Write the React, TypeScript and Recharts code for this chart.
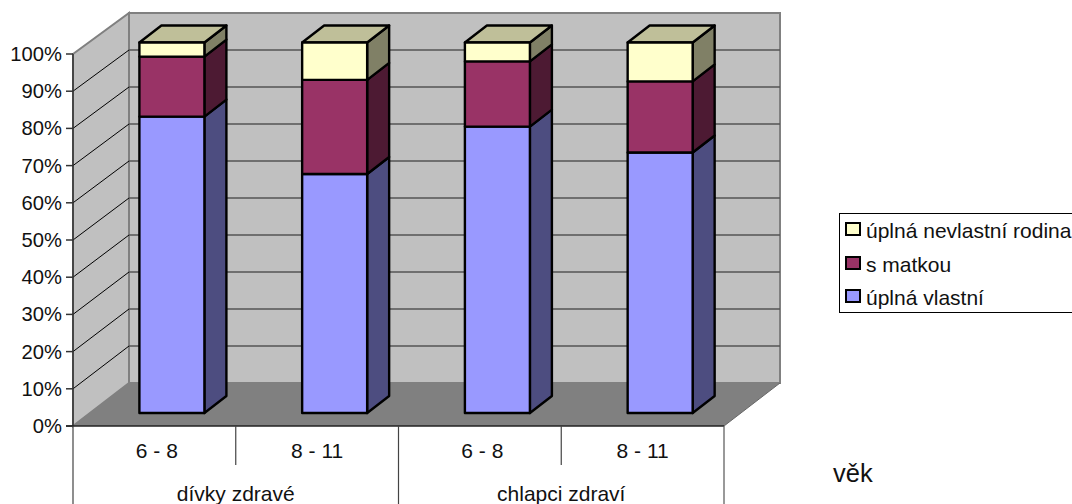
import { Bar, BarChart, Legend, XAxis, YAxis } from "recharts";

const categories = ["6 - 8", "8 - 11", "6 - 8", "8 - 11"];
const groups = ["dívky zdravé", "dívky zdravé", "chlapci zdraví", "chlapci zdraví"];
const uplnaVlastni = [80, 64.5, 77.3, 70.3];
const sMatkou = [16.2, 25.4, 17.6, 19.2];
const uplnaNevlastni = [3.8, 10.1, 5.1, 10.5];
const yTicks = [0, 10, 20, 30, 40, 50, 60, 70, 80, 90, 100];

const data = categories.map((age, i) => ({
  age,
  group: groups[i],
  vlastni: uplnaVlastni[i],
  matka: sMatkou[i],
  nevlastni: uplnaNevlastni[i],
}));

const WIDTH = 1072;
const HEIGHT = 504;
const FONT = "'Liberation Sans', Arial, sans-serif";
const TEXT = "#111";

// front and back planes of the box the columns stand in
const FRONT_LEFT = 73;
const FRONT_RIGHT = 724;
const FRONT_ZERO = 426;
const FRONT_UNIT = 3.72;
const BACK_DX = 56;
const BACK_DY = 43;
const BACK_UNIT = 3.7;

// the columns sit on a plane part way into the box
const PLANE_DX = 17.4;
const BAR_DX = 22;
const BAR_DY = 17;

const frontY = (v: number) => FRONT_ZERO - v * FRONT_UNIT;
const backY = (v: number) => FRONT_ZERO - BACK_DY - v * BACK_UNIT;

function Walls() {
  const bl = FRONT_LEFT + BACK_DX;
  const br = FRONT_RIGHT + BACK_DX;
  const floorBack = FRONT_ZERO - BACK_DY;
  const slot = (FRONT_RIGHT - FRONT_LEFT) / categories.length;
  return (
    <g>
      <polygon
        points={`${bl},${backY(100)} ${br},${backY(100)} ${br},${floorBack} ${bl},${floorBack}`}
        fill="#c0c0c0"
        stroke="#808080"
        strokeWidth={2}
      />
      <polygon
        points={`${FRONT_LEFT},${frontY(100)} ${bl},${backY(100)} ${bl},${floorBack} ${FRONT_LEFT},${FRONT_ZERO}`}
        fill="#c0c0c0"
        stroke="#808080"
        strokeWidth={2}
      />
      {yTicks.slice(1, -1).map((v) => (
        <g key={v}>
          <line x1={bl} x2={br} y1={backY(v)} y2={backY(v)} stroke="#555" strokeWidth={1.5} />
          <line x1={FRONT_LEFT} x2={bl} y1={frontY(v)} y2={backY(v)} stroke="#000" strokeWidth={1} />
        </g>
      ))}
      <polygon
        points={`${FRONT_LEFT},${FRONT_ZERO} ${bl},${floorBack} ${br},${floorBack} ${FRONT_RIGHT},${FRONT_ZERO}`}
        fill="#808080"
      />
      <line x1={FRONT_RIGHT} x2={br} y1={FRONT_ZERO} y2={floorBack} stroke="#666" strokeWidth={1} />
      <line x1={FRONT_LEFT} x2={FRONT_LEFT} y1={frontY(100)} y2={FRONT_ZERO} stroke="#333" strokeWidth={1.5} />
      {yTicks.map((v) => (
        <line key={v} x1={FRONT_LEFT - 7} x2={FRONT_LEFT} y1={frontY(v)} y2={frontY(v)} stroke="#333" strokeWidth={1.5} />
      ))}
      <line x1={FRONT_LEFT - 7} x2={FRONT_RIGHT} y1={FRONT_ZERO} y2={FRONT_ZERO} stroke="#222" strokeWidth={1.5} />
      {/* separators of the two-level category axis */}
      {categories.map((_, i) => {
        const x = FRONT_LEFT + slot * i;
        return <line key={i} x1={x} x2={x} y1={FRONT_ZERO} y2={i % 2 ? 465 : HEIGHT} stroke="#444" strokeWidth={1.2} />;
      })}
      <line x1={FRONT_RIGHT} x2={FRONT_RIGHT} y1={FRONT_ZERO} y2={HEIGHT} stroke="#555" strokeWidth={1.2} />
      <text x={833} y={482} fontFamily={FONT} fontSize={25.5} fill={TEXT}>
        věk
      </text>
    </g>
  );
}

function Column({ x, y, width, height, fill, side, top }: any) {
  const r = x + width;
  const b = y + height;
  return (
    <g stroke="#000" strokeWidth={2.4} strokeLinejoin="round">
      <polygon
        points={`${r},${y} ${r + BAR_DX},${y - BAR_DY} ${r + BAR_DX},${b - BAR_DY} ${r},${b}`}
        fill={side}
      />
      {top && (
        <polygon
          points={`${x},${y} ${x + BAR_DX},${y - BAR_DY} ${r + BAR_DX},${y - BAR_DY} ${r},${y}`}
          fill={top}
        />
      )}
      <rect x={x} y={y} width={width} height={height} fill={fill} />
    </g>
  );
}

function AgeTick({ x, index, payload }: any) {
  // the narrower label sits slightly right of its slot centre
  const nudge = index % 2 ? 0 : 2.5;
  return (
    <text x={x - PLANE_DX + nudge} y={458} textAnchor="middle" fontFamily={FONT} fontSize={21} fill={TEXT}>
      {payload.value}
    </text>
  );
}

function GroupTick({ x, index, payload }: any) {
  if (index % 2) return null;
  const slot = (FRONT_RIGHT - FRONT_LEFT) / categories.length;
  return (
    <text x={x - PLANE_DX + slot / 2} y={501} textAnchor="middle" fontFamily={FONT} fontSize={21} fill={TEXT}>
      {payload.value}
    </text>
  );
}

function PercentTick({ payload }: any) {
  return (
    <text x={62} y={frontY(payload.value) + 7} textAnchor="end" fontFamily={FONT} fontSize={20.2} fill={TEXT}>
      {payload.value}%
    </text>
  );
}

function LegendBox({ payload }: any) {
  const items = [...(payload ?? [])].reverse();
  return (
    <div
      style={{
        width: 240,
        height: 100,
        border: "1px solid #000",
        boxSizing: "border-box",
        background: "#fff",
        position: "relative",
      }}
    >
      {items.map((item: any, i: number) => (
        <div key={item.value} style={{ position: "absolute", left: 5, top: 7 + i * 33.5, display: "flex", alignItems: "center" }}>
          <span
            style={{
              width: 16,
              height: 14,
              boxSizing: "border-box",
              border: "2px solid #000",
              background: item.color,
              marginRight: 5,
              position: "relative",
              top: -2,
            }}
          />
          <span style={{ fontFamily: FONT, fontSize: 21, lineHeight: "20px", color: TEXT, whiteSpace: "nowrap" }}>
            {item.value}
          </span>
        </div>
      ))}
    </div>
  );
}

export default function App() {
  return (
    <div style={{ position: "absolute", left: 0, top: 0, width: WIDTH, height: HEIGHT, overflow: "hidden", background: "#fff" }}>
      <BarChart
        width={WIDTH}
        height={HEIGHT}
        data={data}
        margin={{ left: 0, right: WIDTH - FRONT_RIGHT - PLANE_DX, top: 42.5, bottom: 0 }}
      >
        <Walls />
        <XAxis dataKey="age" xAxisId="age" axisLine={false} tickLine={false} height={40} interval={0} tick={<AgeTick />} />
        <XAxis dataKey="group" xAxisId="group" axisLine={false} tickLine={false} height={51} interval={0} tick={<GroupTick />} />
        <YAxis
          width={FRONT_LEFT + PLANE_DX}
          domain={[0, 100]}
          ticks={yTicks}
          axisLine={false}
          tickLine={false}
          tick={<PercentTick />}
        />
        <Legend
          layout="vertical"
          align="center"
          verticalAlign="middle"
          itemSorter={null}
          wrapperStyle={{ left: 839, top: 213, width: 240 }}
          content={<LegendBox />}
        />
        <Bar
          dataKey="vlastni"
          name="úplná vlastní"
          xAxisId="age"
          stackId="rodina"
          barSize={65}
          fill="#9999ff"
          isAnimationActive={false}
          shape={(p: any) => <Column {...p} side="#4d4d80" />}
        />
        <Bar
          dataKey="matka"
          name="s matkou"
          xAxisId="age"
          stackId="rodina"
          barSize={65}
          fill="#993366"
          isAnimationActive={false}
          shape={(p: any) => <Column {...p} side="#4d1a33" />}
        />
        <Bar
          dataKey="nevlastni"
          name="úplná nevlastní rodina"
          xAxisId="age"
          stackId="rodina"
          barSize={65}
          fill="#ffffcc"
          isAnimationActive={false}
          shape={(p: any) => <Column {...p} side="#808066" top="#bfbf99" />}
        />
      </BarChart>
    </div>
  );
}
